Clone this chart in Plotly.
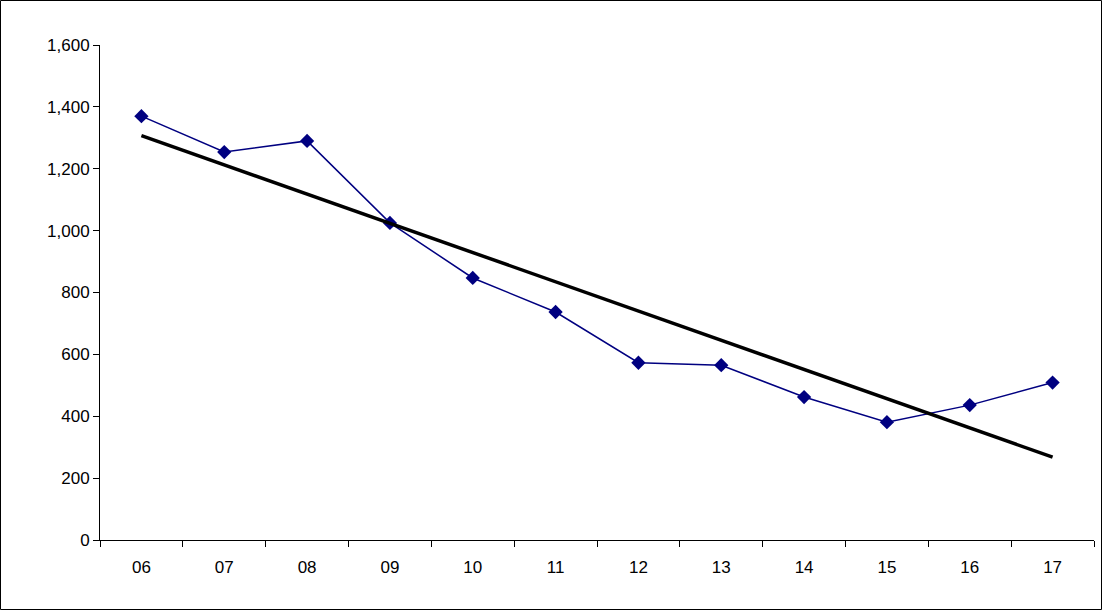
import numpy as np
import plotly.graph_objects as go

years = ["06", "07", "08", "09", "10", "11", "12", "13", "14", "15", "16", "17"]
values = [1370, 1254, 1290, 1025, 847, 737, 573, 565, 462, 381, 436, 509]
y_ticks = [0, 200, 400, 600, 800, 1000, 1200, 1400, 1600]

idx = np.arange(len(values))
slope, icpt = np.polyfit(idx, values, 1)
trend = slope * idx + icpt

W, H = 1102, 610
L, R, T, B = 100, 8, 45, 70
pw, ph = W - L - R, H - T - B

fig = go.Figure()
fig.add_trace(go.Scatter(x=years, y=values, mode="lines+markers",
                         line=dict(color="#000080", width=1.5),
                         marker=dict(symbol="diamond", size=11, color="#000080")))
fig.add_trace(go.Scatter(x=years, y=trend, mode="lines",
                         line=dict(color="black", width=3.5)))

fig.update_layout(
    width=W, height=H, margin=dict(l=L, r=R, t=T, b=B),
    paper_bgcolor="white", plot_bgcolor="white", showlegend=False,
    font=dict(family="Liberation Sans, Arial", size=17, color="black"),
    xaxis=dict(type="category", showgrid=False, showline=True, linecolor="black",
               ticks="outside", tickson="boundaries", ticklen=6, tickcolor="black",
               ticklabelstandoff=12, range=[-0.5, len(years) - 0.5]),
    yaxis=dict(range=[0, 1600], tickvals=y_ticks, tickformat=",d", showgrid=False,
               showline=True, linecolor="black", ticks="outside", ticklen=6,
               tickcolor="black", zeroline=False),
    shapes=[dict(type="rect", xref="paper", yref="paper",
                 x0=-(L - 0.5) / pw, x1=(W - L - 0.5) / pw,
                 y0=-(B - 0.5) / ph, y1=(H - B - 0.5) / ph,
                 line=dict(color="black", width=1))],
)
fig.write_html("out.html", config={"displayModeBar": False},
               post_script="document.body.style.margin='0';")
